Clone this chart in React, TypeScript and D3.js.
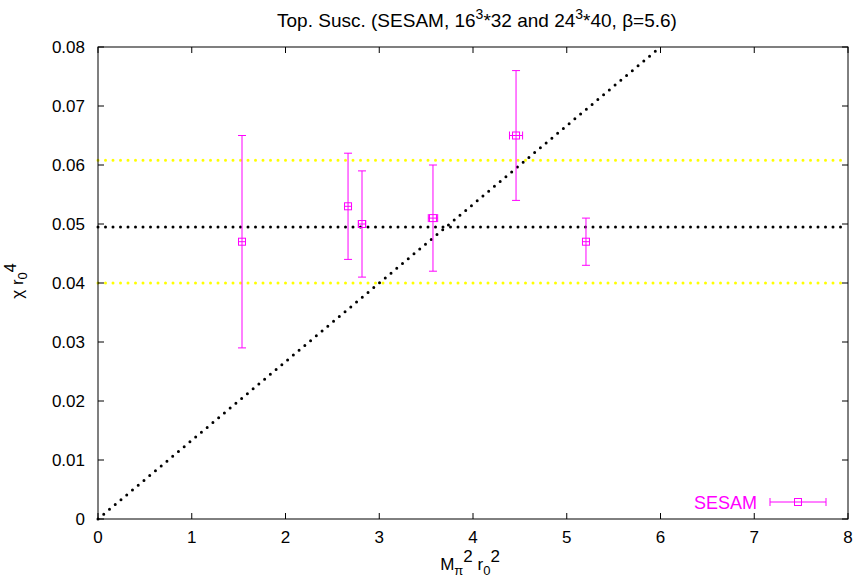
import React from "react";
import * as d3 from "d3";

const xs = [1.536, 2.667, 2.816, 3.573, 4.459, 5.205];
const ys = [0.047, 0.053, 0.05, 0.051, 0.065, 0.047];
const yLow = [0.029, 0.044, 0.041, 0.042, 0.054, 0.043];
const yHigh = [0.065, 0.062, 0.059, 0.06, 0.076, 0.051];
const xErr = [0.0, 0.0, 0.04, 0.05, 0.07, 0.0];
const meanLine = 0.0495;
const bandLines = [0.0608, 0.040];
const slope = 0.08 / 6;
const xTicks = [0, 1, 2, 3, 4, 5, 6, 7, 8];
const yTicks = [0, 0.01, 0.02, 0.03, 0.04, 0.05, 0.06, 0.07, 0.08];

const W = 860, H = 582;
const L = 98, R = 848, T = 47, B = 519;
const MAG = "#ff00ff";
const FONT = "'Liberation Sans', Arial, sans-serif";
const FS = 17;

export default function App() {
  const x = d3.scaleLinear().domain([0, 8]).range([L, R]);
  const y = d3.scaleLinear().domain([0, 0.08]).range([B, T]);
  const diagEndX = 0.08 / slope;
  const box = 3.5;
  return (
    <svg width={W} height={H} style={{ position: "absolute", left: 0, top: 0, background: "#fff" }} fontFamily={FONT}>
      {bandLines.map((v, i) => (
        <line key={"b" + i} x1={L} x2={R} y1={y(v)} y2={y(v)} stroke="#ffff00" strokeWidth={3} strokeDasharray="0 7.5" strokeLinecap="round" />
      ))}
      <line x1={L} x2={R} y1={y(meanLine)} y2={y(meanLine)} stroke="#000" strokeWidth={3} strokeDasharray="0 7.5" strokeLinecap="round" />
      <line x1={x(0)} y1={y(0)} x2={x(diagEndX)} y2={y(0.08)} stroke="#000" strokeWidth={3} strokeDasharray="0 7.5" strokeLinecap="round" />
      <rect x={L} y={T} width={R - L} height={B - T} fill="none" stroke="#000" strokeWidth={1} />
      {xTicks.map((t) => (
        <g key={"xt" + t}>
          <line x1={x(t)} x2={x(t)} y1={B} y2={B - 6} stroke="#000" />
          <line x1={x(t)} x2={x(t)} y1={T} y2={T + 6} stroke="#000" />
          <text x={x(t)} y={B + 24} textAnchor="middle" fontSize={FS}>{t}</text>
        </g>
      ))}
      {yTicks.map((t) => (
        <g key={"yt" + t}>
          <line x1={L} x2={L + 6} y1={y(t)} y2={y(t)} stroke="#000" />
          <line x1={R} x2={R - 6} y1={y(t)} y2={y(t)} stroke="#000" />
          <text x={L - 13} y={y(t) + 6} textAnchor="end" fontSize={FS}>{t === 0 ? "0" : d3.format(".2f")(t)}</text>
        </g>
      ))}
      {xs.map((xv, i) => {
        const cx = x(xv), cy = y(ys[i]);
        const x0 = x(xv - xErr[i]), x1 = x(xv + xErr[i]);
        return (
          <g key={"p" + i} stroke={MAG} strokeWidth={1} fill="none">
            <line x1={cx} x2={cx} y1={y(yLow[i])} y2={y(yHigh[i])} />
            <line x1={cx - 4} x2={cx + 4} y1={y(yLow[i])} y2={y(yLow[i])} />
            <line x1={cx - 4} x2={cx + 4} y1={y(yHigh[i])} y2={y(yHigh[i])} />
            <line x1={Math.min(x0, cx - box)} x2={Math.max(x1, cx + box)} y1={cy} y2={cy} />
            {xErr[i] > 0 && (
              <>
                <line x1={x0} x2={x0} y1={cy - 4} y2={cy + 4} />
                <line x1={x1} x2={x1} y1={cy - 4} y2={cy + 4} />
              </>
            )}
            <rect x={cx - box} y={cy - box} width={box * 2} height={box * 2} />
          </g>
        );
      })}
      <text x={757} y={509} textAnchor="end" fontSize={18} fill={MAG}>SESAM</text>
      <g stroke={MAG} strokeWidth={1} fill="none">
        <line x1={770} x2={826} y1={502} y2={502} />
        <line x1={770} x2={770} y1={498} y2={506} />
        <line x1={826} x2={826} y1={498} y2={506} />
        <rect x={794.5} y={498.5} width={7} height={7} />
      </g>
      <text x={477} y={27} textAnchor="middle" fontSize={19}>
        Top. Susc. (SESAM, 16<tspan dy={-8} fontSize={14}>3</tspan><tspan dy={8}>*32 and 24</tspan><tspan dy={-8} fontSize={14}>3</tspan><tspan dy={8}>*40, β=5.6)</tspan>
      </text>
      <text x={470} y={570} textAnchor="middle" fontSize={FS}>
        M<tspan dy={5} fontSize={13}>π</tspan><tspan dy={-13} fontSize={FS}>2</tspan><tspan dy={8}> r</tspan><tspan dy={5} fontSize={13}>0</tspan><tspan dy={-13} fontSize={FS}>2</tspan>
      </text>
      <g transform="translate(23,281) rotate(-90)">
        <text x={0} y={0} textAnchor="middle" fontSize={FS}>
          χ r<tspan dy={4} fontSize={13}>0</tspan><tspan dy={-11} fontSize={16}>4</tspan>
        </text>
      </g>
    </svg>
  );
}
